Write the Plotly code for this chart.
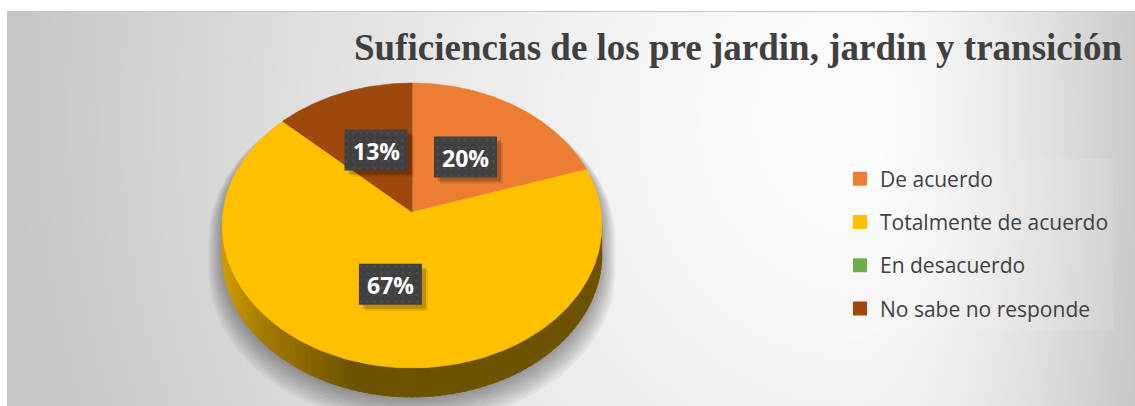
import numpy as np
import plotly.graph_objects as go

# ---- data -------------------------------------------------------------
categories = ["De acuerdo", "Totalmente de acuerdo", "En desacuerdo", "No sabe no responde"]
percentages = [20, 67, 0, 13]
slice_colors = ["#ED7D31", "#FFC000", "#70AD47", "#9E480E"]
title_text = "Suficiencias de los pre jardin, jardin y transición"

# ---- canvas / pie geometry (pixel units) -------------------------------
W, H = 1135, 406
CX, CY = 412, 212          # pie centre on screen
A, B, K = 189.0, 141.2, 0.0947   # horizontal / vertical radius, perspective
DEPTH = 29                 # thickness of the pie


def project(theta, r=1.0, drop=0.0):
    """Screen position of a point on the tilted pie (theta clockwise from 12 o'clock)."""
    u = r * np.sin(theta)
    v = r * np.cos(theta)
    w = 1 + K * v
    return CX + A * u / w, CY - B * v / w + drop


def rgb_scale(hex_color, f):
    h = hex_color.lstrip("#")
    r, g, b = (int(h[i:i + 2], 16) for i in (0, 2, 4))
    return f"rgb({int(r * f)},{int(g * f)},{int(b * f)})"


fig = go.Figure()

# ---- background gradient -------------------------------------------------
gx = np.linspace(0, 1140, 58)
gy = np.linspace(0, 410, 42)
GX, GY = np.meshgrid(gx, gy)
gcx, gcy = 860, 120
ddx = np.where(GX < gcx, (gcx - GX) / 840.0, (GX - gcx) / 290.0)
ddy = (GY - gcy) / 900.0
dist = np.clip(np.sqrt(ddx ** 2 + ddy ** 2), 0, 1)
shade = 252 - 54 * dist ** 1.5
fig.add_trace(go.Heatmap(
    x=gx, y=gy, z=shade, zmin=0, zmax=255, zsmooth="best",
    colorscale=[[0, "rgb(0,0,0)"], [1, "rgb(255,255,255)"]],
    showscale=False, hoverinfo="skip"))

# ---- slice angle boundaries ---------------------------------------------
total = float(sum(percentages))
bounds = np.concatenate([[0.0], np.cumsum(percentages) / total * 2 * np.pi])


def color_at(theta):
    for i in range(len(percentages)):
        if percentages[i] > 0 and bounds[i] <= theta <= bounds[i + 1]:
            return slice_colors[i]
    return slice_colors[-1]


# ---- drop shadow ---------------------------------------------------------
tw = np.arccos(-K)
back = np.linspace(-tw, tw, 120)
front = np.linspace(tw, 2 * np.pi - tw, 120)
bx, by = project(back)
fx, fy = project(front, drop=DEPTH)
sil_x = np.concatenate([bx, fx])
sil_y = np.concatenate([by, fy])
for i in range(9):
    s = 1 + 0.009 * i
    dy = 3 + 1.6 * i
    fig.add_trace(go.Scatter(
        x=CX + (sil_x - CX) * s, y=CY + DEPTH + (sil_y - CY - DEPTH) * s + dy,
        mode="lines", fill="toself", line=dict(width=0),
        fillcolor="rgba(0,0,0,0.042)", showlegend=False, hoverinfo="skip"))

# ---- side wall -----------------------------------------------------------
n_strips = 90
edges = np.linspace(tw, 2 * np.pi - tw, n_strips + 1)
for a0, a1 in zip(edges[:-1], edges[1:]):
    pad = (a1 - a0) * 0.3
    th = np.linspace(a0 - pad, a1 + pad, 4)
    tx, ty = project(th)
    lx, ly = project(th[::-1], drop=DEPTH)
    xm = project((a0 + a1) / 2)[0]
    t = (xm - (CX - 190)) / 380.0
    f = np.interp(t, [0, 0.1, 0.34, 1.0], [0.82, 0.65, 0.43, 0.43])
    col = rgb_scale(color_at((a0 + a1) / 2), f)
    fig.add_trace(go.Scatter(
        x=np.concatenate([tx, lx]), y=np.concatenate([ty, ly]),
        mode="lines", fill="toself", line=dict(width=0.6, color=col),
        fillcolor=col, showlegend=False, hoverinfo="skip"))

# ---- top face slices -----------------------------------------------------
for i, cat in enumerate(categories):
    if percentages[i] <= 0:
        continue
    th = np.linspace(bounds[i], bounds[i + 1], 160)
    ax, ay = project(th)
    fig.add_trace(go.Scatter(
        x=np.concatenate([[CX], ax, [CX]]), y=np.concatenate([[CY], ay, [CY]]),
        mode="lines", fill="toself", line=dict(width=0.6, color=slice_colors[i]),
        fillcolor=slice_colors[i], showlegend=False, hoverinfo="skip",
        name=cat))

# ---- data labels (dark boxes) -------------------------------------------
BW, BH = 63, 41
for i, cat in enumerate(categories):
    if percentages[i] <= 0:
        continue
    mid = (bounds[i] + bounds[i + 1]) / 2
    lx, ly = project(mid, r=0.5)
    for off, alpha in ((6, 0.10), (4, 0.18)):
        fig.add_trace(go.Scatter(
            x=[lx - BW / 2 + off, lx + BW / 2 + off, lx + BW / 2 + off, lx - BW / 2 + off, lx - BW / 2 + off],
            y=[ly - BH / 2 + off, ly - BH / 2 + off, ly + BH / 2 + off, ly + BH / 2 + off, ly - BH / 2 + off],
            mode="lines", fill="toself", line=dict(width=0),
            fillcolor=f"rgba(0,0,0,{alpha})", showlegend=False, hoverinfo="skip"))
    fig.add_trace(go.Scatter(
        x=[lx - BW / 2, lx + BW / 2, lx + BW / 2, lx - BW / 2, lx - BW / 2],
        y=[ly - BH / 2, ly - BH / 2, ly + BH / 2, ly + BH / 2, ly - BH / 2],
        mode="lines", fill="toself", line=dict(width=0),
        fillcolor="#404040",
        fillpattern=dict(shape=".", fgcolor="#575757", bgcolor="#404040", size=7, solidity=0.12),
        showlegend=False, hoverinfo="skip"))
    fig.add_annotation(
        x=lx, y=ly + 1, text=f"{percentages[i]}%", showarrow=False,
        font=dict(family="Open Sans", size=23, color="white", weight="bold"),
        xanchor="center", yanchor="middle")

# ---- legend entries ------------------------------------------------------
for cat, col in zip(categories, slice_colors):
    fig.add_trace(go.Scatter(
        x=[None], y=[None], mode="markers", name=cat, legendgroup=cat,
        marker=dict(symbol="square", size=14, color=col), showlegend=True))

# ---- title ---------------------------------------------------------------
fig.add_annotation(
    x=738, y=47, text=title_text, showarrow=False,
    font=dict(family="Liberation Serif", size=37, color="#404040", weight="bold"),
    xanchor="center", yanchor="middle")

# ---- frame lines ---------------------------------------------------------
fig.add_shape(type="line", x0=7.5, x1=7.5, y0=11, y1=406,
              line=dict(color="#c6c6c6", width=1), layer="above")
fig.add_shape(type="line", x0=7, x1=1135, y0=11.5, y1=11.5,
              line=dict(color="#c6c6c6", width=1), layer="above")

fig.update_layout(
    width=W, height=H,
    margin=dict(l=7, r=0, t=11, b=0, autoexpand=False),
    paper_bgcolor="white", plot_bgcolor="white",
    xaxis=dict(range=[7, 1135], visible=False, fixedrange=True),
    yaxis=dict(range=[406, 11], visible=False, fixedrange=True),
    showlegend=True,
    legend=dict(
        xref="container", yref="container",
        x=840 / W, y=1 - 244 / H, xanchor="left", yanchor="middle",
        traceorder="grouped", tracegroupgap=13,
        bgcolor="rgba(255,255,255,0.1)",
        font=dict(family="Open Sans", size=21, color="#404040")),
)

fig.write_html("out.html")
